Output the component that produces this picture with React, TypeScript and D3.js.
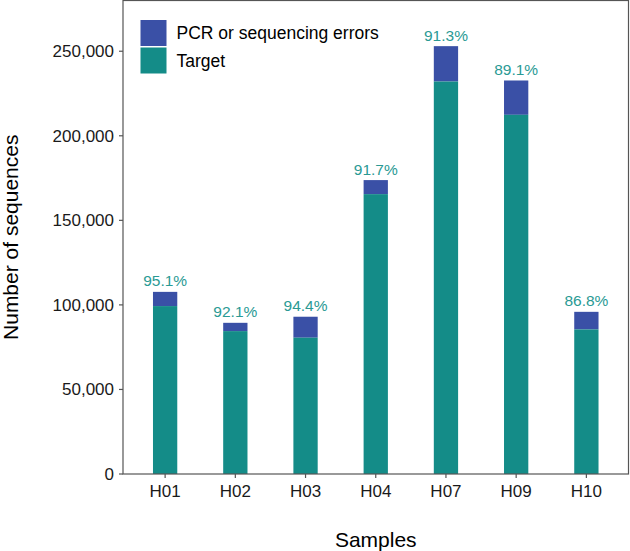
import React from "react";
import * as d3 from "d3";

const samples = ["H01", "H02", "H03", "H04", "H07", "H09", "H10"];
const targetValues = [99300, 84500, 80600, 165500, 232100, 212400, 85500];
const totalValues = [107700, 89400, 93000, 173800, 253000, 232700, 95900];
const percentLabels = ["95.1%", "92.1%", "94.4%", "91.7%", "91.3%", "89.1%", "86.8%"];
const yTicks = [0, 50000, 100000, 150000, 200000, 250000];
const legendLabels = ["PCR or sequencing errors", "Target"];

const W = 630;
const H = 551;
const left = 123;
const right = 628.5;
const top = 0.5;
const bottom = 474;
const BLUE = "#3a50a6";
const TEAL = "#148c88";
const LABEL = "#2a9a94";
const AXIS = "#555555";
const FONT = "Liberation Sans, Arial, sans-serif";

export default function App() {
  const x = d3.scaleBand<string>().domain(samples).range([left, right]).paddingInner(0.654).paddingOuter(0.427);
  const y = d3.scaleLinear().domain([0, 280000]).range([bottom, top]);
  const fmt = d3.format(",");
  const bw = x.bandwidth();
  return (
    <svg width={W} height={H} style={{ position: "absolute", left: 0, top: 0, background: "#fff" }}>
      <rect x={0} y={0} width={W} height={H} fill="#fff" />
      {samples.map((s, i) => (
        <g key={s}>
          <rect x={x(s)} y={y(totalValues[i])} width={bw} height={y(targetValues[i]) - y(totalValues[i])} fill={BLUE} />
          <rect x={x(s)} y={y(targetValues[i])} width={bw} height={y(0) - y(targetValues[i])} fill={TEAL} />
          <text x={(x(s) as number) + bw / 2} y={y(totalValues[i]) - 5.5} textAnchor="middle" fontFamily={FONT} fontSize={15.5} fill={LABEL}>
            {percentLabels[i]}
          </text>
        </g>
      ))}
      <rect x={left} y={top} width={right - left} height={bottom - top} fill="none" stroke={AXIS} strokeWidth={1.2} />
      {yTicks.map((t) => (
        <g key={t}>
          <line x1={left - 4} x2={left} y1={y(t)} y2={y(t)} stroke={AXIS} strokeWidth={1.2} />
          <text x={left - 9} y={y(t)} dy="0.35em" textAnchor="end" fontFamily={FONT} fontSize={17} fill="#1a1a1a">
            {fmt(t)}
          </text>
        </g>
      ))}
      {samples.map((s) => (
        <g key={"t" + s}>
          <line x1={(x(s) as number) + bw / 2} x2={(x(s) as number) + bw / 2} y1={bottom} y2={bottom + 4} stroke={AXIS} strokeWidth={1.2} />
          <text x={(x(s) as number) + bw / 2} y={bottom + 23} textAnchor="middle" fontFamily={FONT} fontSize={17} fill="#1a1a1a">
            {s}
          </text>
        </g>
      ))}
      <text x={(left + right) / 2} y={547} textAnchor="middle" fontFamily={FONT} fontSize={21} fill="#000">
        Samples
      </text>
      <text transform={`translate(18,${(top + bottom) / 2}) rotate(-90)`} textAnchor="middle" fontFamily={FONT} fontSize={21} fill="#000">
        Number of sequences
      </text>
      {legendLabels.map((l, i) => (
        <g key={l}>
          <rect x={140.5} y={20 + i * 27.5} width={26} height={26} fill={i === 0 ? BLUE : TEAL} />
          <text x={176.5} y={33 + i * 27.5} dy="0.35em" fontFamily={FONT} fontSize={17.5} fill="#000">
            {l}
          </text>
        </g>
      ))}
    </svg>
  );
}
